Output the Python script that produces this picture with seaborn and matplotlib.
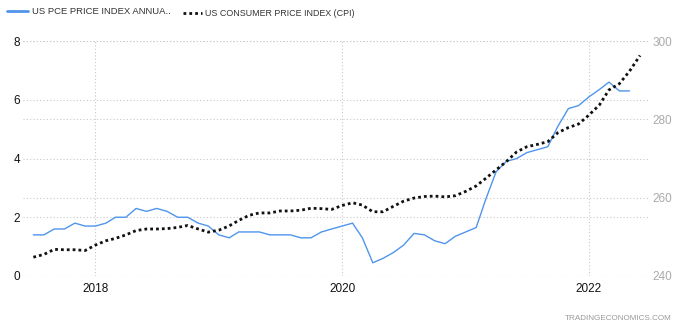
import matplotlib
matplotlib.use("Agg")
import matplotlib.pyplot as plt
import matplotlib.dates as mdates
from matplotlib.lines import Line2D
import seaborn as sns
import pandas as pd
import numpy as np

sns.set_theme(style="white")
plt.rcParams['font.family'] = ['Liberation Sans', 'DejaVu Sans']

# ---- data (monthly) ----
pce_dates = pd.date_range("2017-07-01", "2022-05-01", freq="MS")
pce_values = [1.4, 1.4, 1.6, 1.6, 1.8, 1.7,
              1.7, 1.8, 2.0, 2.0, 2.3, 2.2, 2.3, 2.2, 2.0, 2.0, 1.8, 1.7,
              1.4, 1.3, 1.5, 1.5, 1.5, 1.4, 1.4, 1.4, 1.3, 1.3, 1.5, 1.6,
              1.7, 1.8, 1.3, 0.45, 0.6, 0.8, 1.05, 1.45, 1.4, 1.2, 1.1, 1.35,
              1.5, 1.65, 2.6, 3.55, 3.9, 4.0, 4.2, 4.3, 4.4, 5.1, 5.7, 5.8,
              6.1, 6.35, 6.6, 6.3, 6.3]

cpi_dates = pd.date_range("2017-07-01", "2022-06-01", freq="MS")
cpi_values = [244.8, 245.5, 246.8, 246.7, 246.7, 246.5,
              247.9, 249.0, 249.6, 250.5, 251.6, 252.0, 252.0, 252.1, 252.4, 252.9, 252.0, 251.2,
              251.7, 252.8, 254.2, 255.5, 256.1, 256.1, 256.6, 256.6, 256.8, 257.3, 257.2, 257.0,
              258.0, 258.7, 258.1, 256.4, 256.4, 257.8, 259.1, 259.9, 260.3, 260.4, 260.2, 260.5,
              261.6, 263.0, 264.9, 267.1, 269.2, 271.7, 273.0, 273.6, 274.3, 276.6, 277.9, 278.8,
              281.1, 283.7, 287.5, 289.1, 292.3, 296.3]

left_ticks = [0, 2, 4, 6, 8]
right_ticks = [240, 260, 280, 300]
year_ticks = ["2018", "2020", "2022"]

pce_df = pd.DataFrame({"date": pce_dates, "value": pce_values})
cpi_df = pd.DataFrame({"date": cpi_dates, "value": cpi_values})

W, H = 680, 328
fig = plt.figure(figsize=(W / 100, H / 100), dpi=100)
L, R, T, B = 23, 648, 41, 276
ax = fig.add_axes([L / W, (H - B) / H, (R - L) / W, (B - T) / H])
ax2 = ax.twinx()

blue = "#4F95EC"
grid_c = "#c8c8c8"

sns.lineplot(data=pce_df, x="date", y="value", ax=ax, color=blue, lw=1.0, legend=False)
sns.lineplot(data=cpi_df, x="date", y="value", ax=ax2, color="#111111", lw=2.0,
             linestyle=(0, (1, 1.1)), legend=False)

# x range
x2018 = mdates.date2num(pd.Timestamp("2018-01-01"))
x2022 = mdates.date2num(pd.Timestamp("2022-01-01"))
ppd = (589 - 95.5) / (x2022 - x2018)
ax.set_xlim(x2018 - (95.5 - L) / ppd, x2018 + (R - 95.5) / ppd)
ax.set_ylim(0, 8)
ax2.set_ylim(240, 300)

ax.set_xticks([mdates.date2num(pd.Timestamp(f"{y}-01-01")) for y in year_ticks])
ax.set_xticklabels(year_ticks)
ax.set_yticks(left_ticks)
ax.set_yticklabels([str(v) for v in left_ticks])
ax2.set_yticks(right_ticks)
ax2.set_yticklabels([str(v) for v in right_ticks])

for a in (ax, ax2):
    for s in a.spines.values():
        s.set_visible(False)
    a.set_xlabel("")
    a.set_ylabel("")

ax.grid(True, color=grid_c, lw=0.8, linestyle=(0, (1, 2)))
ax2.grid(True, axis="y", color=grid_c, lw=0.8, linestyle=(0, (1, 2)))
ax2.set_zorder(ax.get_zorder() + 1)
ax2.patch.set_visible(False)
ax.set_axisbelow(True)

ax.tick_params(axis="x", length=0, pad=5, labelsize=8.5, labelcolor="#111111")
ax.tick_params(axis="y", length=0, pad=2, labelsize=8.5, labelcolor="#111111")
ax2.tick_params(axis="y", length=0, pad=3, labelsize=8.5, labelcolor="#aaaaaa")

# legend
fig.add_artist(Line2D([7 / W, 28 / W], [(H - 11) / H] * 2, color=blue, lw=2.0))
fig.text(32 / W, (H - 11) / H, "US PCE PRICE INDEX ANNUA..", fontsize=6.8,
         color="#333333", va="center", ha="left")
fig.add_artist(Line2D([183 / W, 202 / W], [(H - 13) / H] * 2, color="#111111", lw=2.0,
                      linestyle=(0, (1, 1.1))))
fig.text(205 / W, (H - 13) / H, "US CONSUMER PRICE INDEX (CPI)", fontsize=6.4,
         color="#333333", va="center", ha="left")

fig.text(672 / W, (H - 318) / H, "TRADINGECONOMICS.COM", fontsize=5.9,
         color="#999999", va="center", ha="right")

fig.savefig("out.png", dpi=100)
